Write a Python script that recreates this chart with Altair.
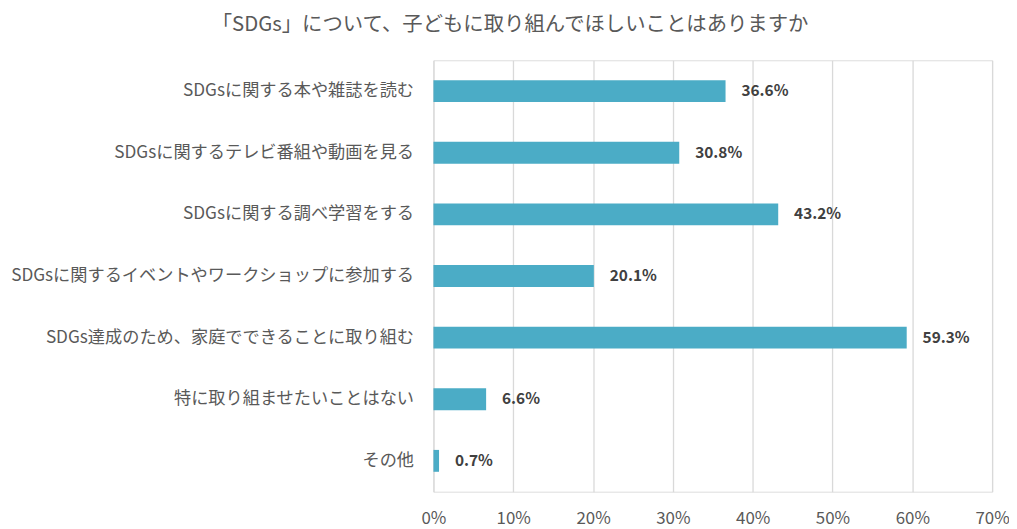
import altair as alt
import pandas as pd

categories = [
    "SDGsに関する本や雑誌を読む",
    "SDGsに関するテレビ番組や動画を見る",
    "SDGsに関する調べ学習をする",
    "SDGsに関するイベントやワークショップに参加する",
    "SDGs達成のため、家庭でできることに取り組む",
    "特に取り組ませたいことはない",
    "その他",
]
values = [36.6, 30.8, 43.2, 20.1, 59.3, 6.6, 0.7]
labels = [f"{v:.1f}%" for v in values]

df = pd.DataFrame({"cat": categories, "val": values, "label": labels})

FONT = "Noto Sans CJK JP"

y_enc = alt.Y("cat:N", sort=categories, title=None,
              scale=alt.Scale(paddingInner=0.645, paddingOuter=0.3225),
              axis=alt.Axis(labelFontSize=17.3, labelColor="#595959", labelFont=FONT,
                            labelPadding=20, ticks=False, domain=False, labelLimit=800))
x_enc = alt.X("val:Q", title=None,
              scale=alt.Scale(domain=[0, 70], nice=False),
              axis=alt.Axis(values=[0, 10, 20, 30, 40, 50, 60, 70],
                            labelExpr="datum.value + '%'", labelFlush=False,
                            labelFontSize=17, labelColor="#595959", labelFont=FONT,
                            labelPadding=19, ticks=False, domain=False,
                            grid=True, gridColor="#D9D9D9", gridWidth=1.3))

bars = alt.Chart(df).mark_bar(color="#4BACC6").encode(y=y_enc, x=x_enc)
text = alt.Chart(df).mark_text(align="left", dx=16, fontSize=15.5, fontWeight="bold",
                               color="#404040", font=FONT).encode(
    y=alt.Y("cat:N", sort=categories), x="val:Q", text="label:N")

chart = (bars + text).properties(
    width=562, height=434,
    autosize=alt.AutoSizeParams(type="none"),
    padding={"left": 428, "top": 51, "right": 17, "bottom": 38},
    title=alt.TitleParams("「SDGs」について、子どもに取り組んでほしいことはありますか",
                          fontSize=20.5, font=FONT, fontWeight="normal", color="#595959",
                          anchor="middle", frame="bounds", offset=25),
).configure_view(stroke=None).configure(background="white")

chart.save("out.html", embed_options={"renderer": "svg", "actions": False})
